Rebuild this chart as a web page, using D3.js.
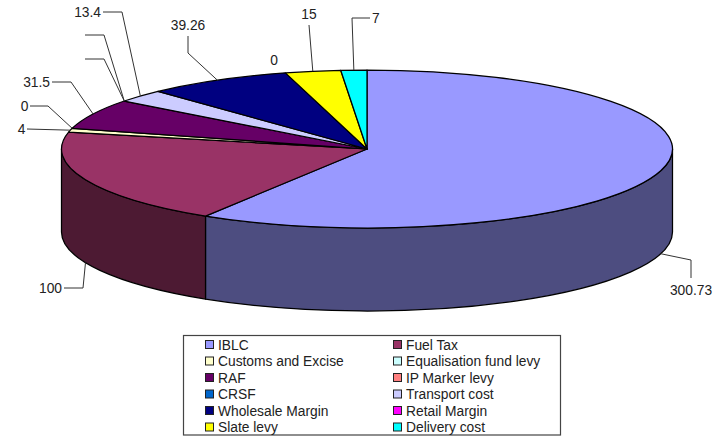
<!DOCTYPE html>
<html>
<head>
<meta charset="utf-8">
<script src="https://cdn.jsdelivr.net/npm/d3@7"></script>
<style>
body { margin: 0; background: #fff; }
text { font-family: "Liberation Sans", Arial, sans-serif; font-size: 13.8px; fill: #222; }
</style>
</head>
<body>
<div id="window"></div>
<script>
let categories = ["IBLC", "Fuel Tax", "Customs and Excise", "Equalisation fund levy", "RAF", "IP Marker levy",
    "CRSF", "Transport cost", "Wholesale Margin", "Retail Margin", "Slate levy", "Delivery cost"];
let values = [300.73, 100, 4, 0, 31.5, 0, 0, 13.4, 39.26, 0, 15, 7];
// IP Marker and CRSF have a leader but no text in the original
let labels = ["300.73", "100", "4", "0", "31.5", "", "", "13.4", "39.26", "0", "15", "7"];
let colors = ["#9999ff", "#993366", "#ffffcc", "#ccffff", "#660066", "#ff8080",
    "#0066cc", "#ccccff", "#000080", "#ff00ff", "#ffff00", "#00ffff"];
let side_colors = ["#4d4d80", "#4d1a33"];

// leader routes, anchor on the rim comes from the slice itself
let leaders = [
    { elbow: [[691, 260], [691, 278]], text: [691, 295], anchor: "middle" },
    { elbow: [[83, 288], [64, 288]], text: [62, 293], anchor: "end" },
    { elbow: [[27, 129]], text: [25.5, 134], anchor: "end" },
    { elbow: [[48, 106], [30, 106]], text: [28.5, 111], anchor: "end" },
    { elbow: [[71, 82], [52, 82]], text: [50, 87], anchor: "end" },
    { elbow: [[104, 59], [85, 59]], text: [85, 64], anchor: "end" },
    { elbow: [[104, 35], [85, 35]], text: [85, 40], anchor: "end" },
    { elbow: [[122, 12], [103, 12]], text: [101, 17], anchor: "end" },
    { elbow: [[188, 53], [188, 36]], text: [188, 29.5], anchor: "middle" },
    { elbow: null, text: [274, 64.5], anchor: "middle" },
    { elbow: [[309, 25]], text: [309, 18.5], anchor: "middle" },
    { elbow: [[352, 18], [370, 18]], text: [372, 23], anchor: "start" }
];

function setupChart(w, h) {
    let cx = 367, cy = 149, rx = 305.5, ry = 79, depth = 83;

    let svg = d3.select("#window")
        .append("svg")
        .attr("width", w)
        .attr("height", h)
        .style("display", "block");

    let pie = d3.pie().sort(null).value(d => d);
    let slices = pie(values);

    let px = a => cx + rx * Math.sin(a);
    let py = a => cy - ry * Math.cos(a);

    function topPath(d) {
        let large = d.endAngle - d.startAngle > Math.PI ? 1 : 0;
        return `M${cx},${cy}L${px(d.startAngle)},${py(d.startAngle)}`
            + `A${rx},${ry} 0 ${large} 1 ${px(d.endAngle)},${py(d.endAngle)}Z`;
    }

    // only the front half of the rim is visible
    function sidePath(d) {
        let a0 = Math.max(d.startAngle, Math.PI / 2);
        let a1 = Math.min(d.endAngle, Math.PI * 1.5);
        if (a1 <= a0) return null;
        return `M${px(a0)},${py(a0)}A${rx},${ry} 0 0 1 ${px(a1)},${py(a1)}`
            + `L${px(a1)},${py(a1) + depth}A${rx},${ry} 0 0 0 ${px(a0)},${py(a0) + depth}Z`;
    }

    svg.append("g").selectAll("path")
        .data(slices.filter(d => sidePath(d)))
        .enter()
        .append("path")
        .attr("d", sidePath)
        .attr("fill", d => side_colors[d.index])
        .attr("stroke", "#000")
        .attr("stroke-width", 1.25)
        .attr("stroke-linejoin", "round");

    svg.append("g").selectAll("path")
        .data(slices.filter(d => d.value > 0))
        .enter()
        .append("path")
        .attr("d", topPath)
        .attr("fill", d => colors[d.index])
        .attr("stroke", "#000")
        .attr("stroke-width", 1.25)
        .attr("stroke-linejoin", "round");

    // data labels and their leaders
    let line = d3.line();
    slices.forEach((d, i) => {
        let route = leaders[i];
        let mid = (d.startAngle + d.endAngle) / 2;
        let front = Math.cos(mid) < 0;
        if (route.elbow) {
            let start = [px(mid), py(mid) + (front ? depth : 0)];
            svg.append("path")
                .attr("d", line([start].concat(route.elbow)))
                .attr("fill", "none")
                .attr("stroke", "#333")
                .attr("stroke-width", 1);
        }
        if (labels[i] !== "") {
            svg.append("text")
                .attr("x", route.text[0])
                .attr("y", route.text[1])
                .attr("text-anchor", route.anchor)
                .text(labels[i]);
        }
    });

    // legend, two columns filled row by row
    svg.append("rect")
        .attr("x", 183.5)
        .attr("y", 335.5)
        .attr("width", 377)
        .attr("height", 99.5)
        .attr("fill", "none")
        .attr("stroke", "#444")
        .attr("stroke-width", 1.2);

    let col_x = d3.scaleOrdinal().domain([0, 1]).range([205, 393]);
    let row_y = d3.scaleLinear().domain([0, 5]).range([344.5, 427]);

    let items = svg.append("g").selectAll("g")
        .data(categories)
        .enter()
        .append("g")
        .attr("transform", (d, i) => `translate(${col_x(i % 2)},${row_y(Math.floor(i / 2))})`);

    items.append("rect")
        .attr("x", 0.5)
        .attr("y", -4)
        .attr("width", 8)
        .attr("height", 8)
        .attr("fill", (d, i) => colors[i])
        .attr("stroke", "#222")
        .attr("stroke-width", 1);

    items.append("text")
        .attr("x", 13)
        .attr("y", 5)
        .text(d => d);
}

setupChart(722, 440);
</script>
</body>
</html>
